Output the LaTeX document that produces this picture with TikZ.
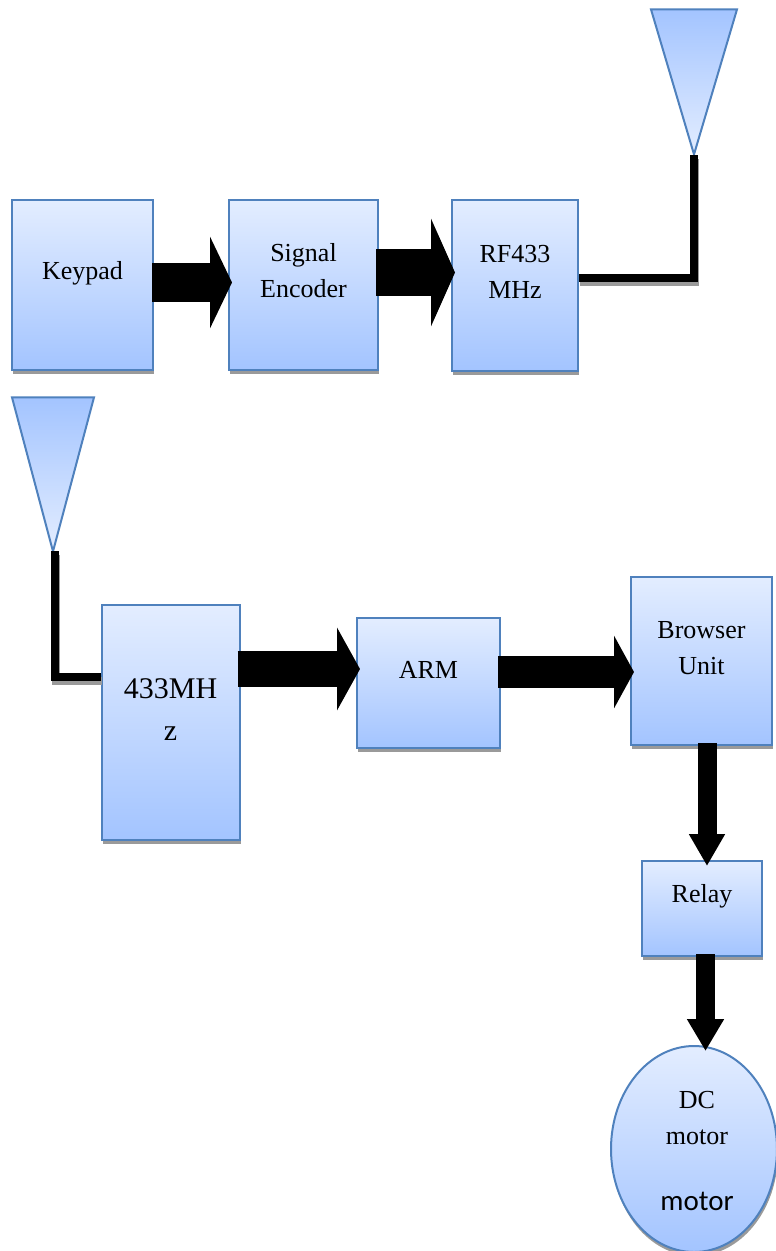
\documentclass[tikz,border=0pt]{standalone}
\usepackage{fontspec}
\setmainfont{Liberation Serif}
\newfontfamily\carlitofont{Carlito}
\usetikzlibrary{arrows.meta}
\usetikzlibrary{shapes.geometric}
\usetikzlibrary{shadows}
\definecolor{boxedge}{HTML}{4F81BD}
\definecolor{boxlight}{HTML}{E3EDFF}
\definecolor{boxdark}{HTML}{A3C4FF}
\definecolor{shadowgrey}{HTML}{9A9A9A}
\tikzset{
  block/.style={draw=boxedge,line width=2pt,top color=boxlight,bottom color=boxdark,inner sep=0pt,
    drop shadow={shadow xshift=1pt,shadow yshift=-4pt,fill=shadowgrey,opacity=1}},
  blocktext/.style={font=\fontsize{26}{36}\selectfont,align=center,inner sep=0pt},
  antenna/.style={draw=boxedge,line width=2pt,top color=boxdark,bottom color=boxlight,inner sep=0pt,
    isosceles triangle,isosceles triangle stretches,shape border rotate=-90,anchor=apex},
  wire/.style={line width=8pt},
  wireshadow/.style={line width=8pt,draw=shadowgrey,transform canvas={xshift=1pt,yshift=-4pt}},
  blockarrow/.style n args={3}{line width=#1pt,-{Triangle[length=#2pt,width=#3pt]}}
}
\begin{document}
\begin{tikzpicture}[x=1pt,y=-1pt]
\useasboundingbox (0,0) rectangle (776,1251);
% top row
\node[block,minimum width=141pt,minimum height=170pt,label={[blocktext,yshift=11.5pt]center:Keypad}] (keypad) at (82.5,285) {};
\node[block,minimum width=149pt,minimum height=170pt,label={[blocktext,yshift=14pt]center:Signal\\Encoder}] (encoder) at (303.5,285) {};
\node[block,minimum width=126pt,minimum height=171pt,label={[blocktext,yshift=14pt]center:RF433\\MHz}] (transmitter) at (515,285.5) {};
\node[antenna,minimum width=86pt,minimum height=145pt] (txantenna) at (694,157) {};
% lower row
\node[antenna,minimum width=82pt,minimum height=154pt] (rxantenna) at (53,554) {};
\node[block,minimum width=138pt,minimum height=235pt,label={[blocktext,font=\fontsize{30}{42}\selectfont,yshift=13pt]center:433MH\\z}] (receiver) at (170.5,722.5) {};
\node[block,minimum width=143pt,minimum height=130pt,label={[blocktext,yshift=13pt]center:ARM}] (arm) at (428.5,683) {};
\node[block,minimum width=141pt,minimum height=168pt,label={[blocktext,yshift=13pt]center:Browser\\Unit}] (browser) at (701.5,661) {};
\node[block,minimum width=120pt,minimum height=95pt,label={[blocktext,yshift=12pt]center:Relay}] (relay) at (702,908.5) {};
\node[block,ellipse,minimum width=166pt,minimum height=206pt] (motor) at (694,1149) {};
\node[blocktext] (motortext) at (697,1118) {DC\\motor};
\node[blocktext,font=\carlitofont\fontsize{29}{36}\selectfont] (motorname) at (697,1201) {motor};
% block arrows
\draw[blockarrow={39}{22}{91}] ([shift={(-2,-2.5)}]keypad.east) -- ([shift={(4,-2.5)}]encoder.west);
\draw[blockarrow={47}{24}{107}] ([shift={(-3,-12.5)}]encoder.east) -- ([shift={(4,-13)}]transmitter.west);
\draw[blockarrow={36}{23}{82}] ([shift={(-3,-53.5)}]receiver.east) -- ([shift={(4,-14)}]arm.west);
\draw[blockarrow={32}{20}{72}] ([shift={(-3,-11)}]arm.east) -- ([shift={(4,11)}]browser.west);
\draw[blockarrow={19}{32}{34}] ([shift={(5.5,-3)}]browser.south) -- ([shift={(5,6)}]relay.north);
\draw[blockarrow={19}{32}{35}] ([shift={(3.5,-3)}]relay.south) -- ([shift={(11.5,6)}]motor.north);
% antenna wires
\draw[wireshadow] ([yshift=7.5pt]transmitter.east) -| ([yshift=2pt]txantenna.apex);
\draw[wire] ([yshift=7.5pt]transmitter.east) -| ([yshift=2pt]txantenna.apex);
\draw[wireshadow] ([yshift=45.5pt]receiver.west) -| ([shift={(2,-3)}]rxantenna.apex);
\draw[wire] ([yshift=45.5pt]receiver.west) -| ([shift={(2,-3)}]rxantenna.apex);
\end{tikzpicture}
\end{document}
